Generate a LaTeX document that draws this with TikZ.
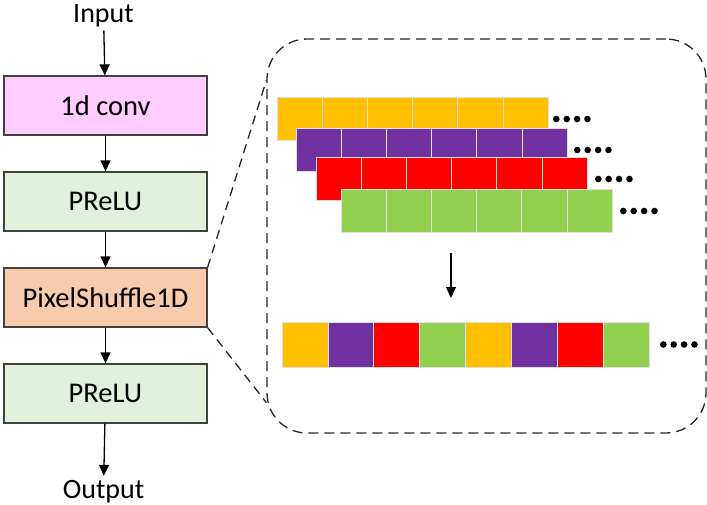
\documentclass[tikz,border=0pt]{standalone}
\usepackage{fontspec}
\setmainfont{Carlito}
\usetikzlibrary{arrows.meta,positioning,calc}
\definecolor{convpink}{HTML}{FFCCFF}
\definecolor{relugreen}{HTML}{E2EFDA}
\definecolor{shuforange}{HTML}{F8CBAD}
\definecolor{chyellow}{HTML}{FFC000}
\definecolor{chpurple}{HTML}{7030A0}
\definecolor{chred}{HTML}{FF0000}
\definecolor{chgreen}{HTML}{92D050}

\begin{document}
\begin{tikzpicture}[x=1pt,y=-1pt,->,>={Triangle[length=11pt,width=10pt]},line width=1.3pt,
    node distance=96pt,
    layer/.style={rectangle,draw=black!75,minimum width=203pt,minimum height=59pt,
        font=\fontsize{28.5}{32}\selectfont},
    iotext/.style={font=\fontsize{28}{32}\selectfont,anchor=base},
    cell/.style={-,draw=black!12,line width=0.8pt},
    zoomline/.style={-,draw=black!85,dash pattern=on 9pt off 6pt}]
        \useasboundingbox (0,0) rectangle (707,504);

        \node[layer,fill=convpink]   (conv)   at (105.5,105.5)      {1d conv};
        \node[iotext]                (in)     at (103.5,22)        {Input};
        \node[layer,fill=relugreen]  (prelu1) [below of=conv]      {PReLU};
        \node[layer,fill=shuforange] (shuffle)[below of=prelu1]    {PixelShuffle1D};
        \node[layer,fill=relugreen]  (prelu2) [below of=shuffle]   {PReLU};
        \node[iotext]                (out)    at (103.5,498)       {Output};

        \path (in) edge (conv)
        (conv) edge (prelu1)
        (prelu1) edge (shuffle)
        (shuffle) edge (prelu2)
        (prelu2) edge (out);

        % zoomed view of the shuffle
        \node[-,draw=black!85,dash pattern=on 10pt off 6pt,rounded corners=40pt,
            minimum width=439pt,minimum height=394pt] (panel) at (486.5,236) {};
        \coordinate (ptop) at ($(panel.north west)+(0,42)$);
        \coordinate (pbot) at ($(panel.south west)+(0,-31)$);
        \draw[zoomline] (shuffle.north east) -- (ptop);
        \draw[zoomline] (shuffle.south east) -- (pbot);

        % channels before
        \foreach \xo/\yo/\col/\dx in {277/97/chyellow/553, 296/128/chpurple/574,
            316/157/chred/595, 341/189/chgreen/620} {
            \foreach \i in {0,...,5}
                \draw[cell,fill=\col] (\xo+45.2*\i,\yo) rectangle ++(45.2,43.5);
            \foreach \j in {0,...,3}
                \fill (\dx+3.3+10.4*\j,\yo+22) circle (3.3pt);
        }

        \coordinate (shuftop) at (451,253);
        \coordinate (shufbot) at (451,298);
        \draw[line width=1.1pt] (shuftop) -- (shufbot);

        % channels after
        \foreach \i/\col in {0/chyellow,1/chpurple,2/chred,3/chgreen,
            4/chyellow,5/chpurple,6/chred,7/chgreen}
            \draw[cell,fill=\col] (282+45.9*\i,322) rectangle ++(45.9,45);
        \foreach \j in {0,...,3}
            \fill (660+3.3+10.4*\j,344.5) circle (3.3pt);
    \end{tikzpicture}
\end{document}
